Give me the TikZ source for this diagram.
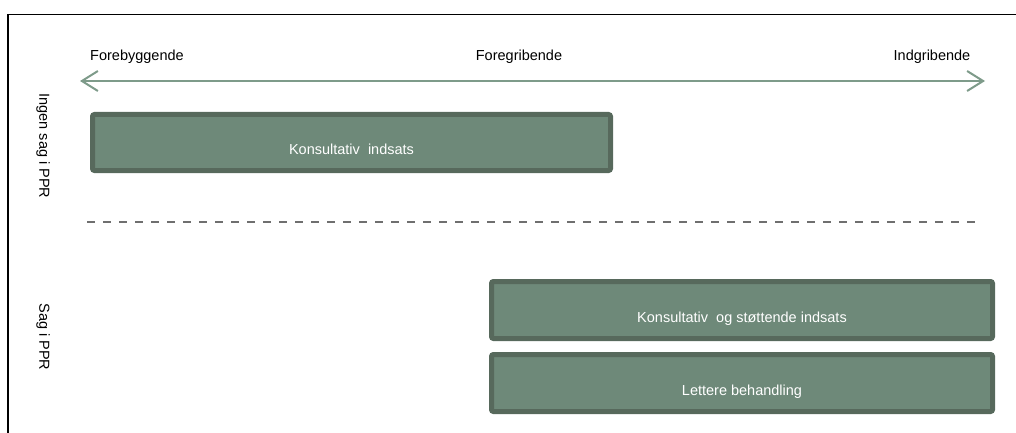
\documentclass[tikz,border=0pt]{standalone}
\usepackage{fontspec}
\setmainfont{Liberation Sans}
\usetikzlibrary{arrows.meta}

\definecolor{boxfyld}{HTML}{6E8979}
\definecolor{boxrand}{HTML}{57695C}
\definecolor{pilfarve}{HTML}{7E9B8A}
\definecolor{stiplet}{HTML}{6F6F6F}

\newcommand{\boxtekst}[1]{\raisebox{-12pt}[0pt][0pt]{#1}}

\begin{document}
\begin{tikzpicture}[x=1pt, y=-1pt, font=\fontsize{14.5}{17}\selectfont,
	indsats/.style={draw=boxrand, fill=boxfyld, line width=5pt, rounded corners=2pt, text=white, inner sep=0pt},
	bred/.style={minimum width=518pt, minimum height=56pt},
	smal/.style={minimum width=501pt, minimum height=57pt}]
			\useasboundingbox (0, 0) rectangle (1016, 433);
			\draw[line width=1.2pt] (8, 433) -- (8, 14.5) -- (1016, 14.5);

			% akse
			\coordinate (venstre) at (80, 81);
			\coordinate (hoejre) at (985, 81);
			\draw[pilfarve, line width=2pt, {Straight Barb[length=16pt, width=20pt]}-{Straight Barb[length=16pt, width=20pt]}] (venstre) -- (hoejre);
			\node (forebyg) at (137, 57) {Forebyggende};
			\node (foregrib) at (519, 57) {Foregribende};
			\node (indgrib) at (932, 57) {Indgribende};

			% skillelinje
			\coordinate (skilV) at (87, 222);
			\coordinate (skilH) at (982, 222);
			\draw[stiplet, line width=2pt, dash pattern=on 8pt off 8pt] (skilV) -- (skilH);

			\node[rotate=-90] (ingensag) at (43, 146) {Ingen\ sag\ i PPR};
			\node[rotate=-90] (sag) at (43, 337) {Sag i PPR};

			\node[indsats, bred] (konsul) at (351.5, 142.5) {\boxtekst{Konsultativ\ \ indsats}};
			\node[indsats, smal] (stoet) at (742, 310) {\boxtekst{Konsultativ\ \ og støttende indsats}};
			\node[indsats, smal] (lettere) at (742, 383) {\boxtekst{Lettere behandling}};
\end{tikzpicture}
\end{document}
